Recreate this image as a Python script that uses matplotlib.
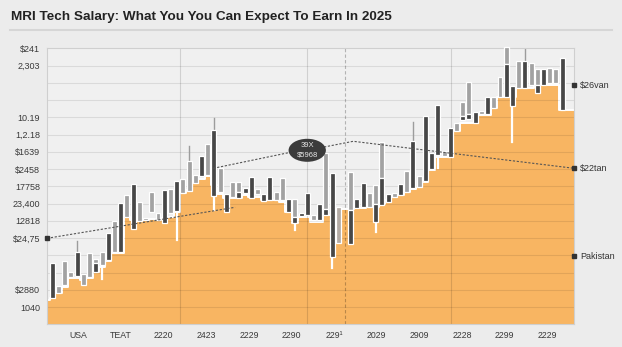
import numpy as np
import matplotlib.pyplot as plt
from matplotlib.patches import Ellipse, Rectangle
from matplotlib.lines import Line2D

plt.rcParams['font.family'] = ['Liberation Sans', 'DejaVu Sans']

# orange step level under each candle slot
base = [26, 31, 37, 46, 46, 44, 46, 52, 57, 63, 71, 71, 107, 104, 103, 104, 105, 104, 106, 107,
        112, 131, 134, 141, 145, 148, 139, 130, 126, 126, 126, 129, 127, 127, 124, 124, 124, 122, 112, 101,
        107, 107, 102, 102, 109, 109, 114, 115, 115, 116, 116, 117, 117, 120, 124, 127, 129, 132, 135, 137,
        142, 154, 167, 167, 167, 193, 201, 201, 201, 209, 209, 216, 227, 227, 227, 236, 236, 236, 239, 239,
        239, 239, 214]
base_start = 24

# candle bodies
hi = [61, 38, 63, 52, 72, 50, 71, 65, 72, 91, 103, 121, 129, 140, 122, 106, 132, 111, 134, 135,
      143, 145, 163, 149, 168, 180, 194, 156, 130, 142, 142, 136, 147, 135, 130, 147, 132, 146, 125, 125,
      111, 131, 109, 120, 171, 151, 117, None, 152, 125, 141, 131, 139, 182, 130, 131, 140, 153, 183, 148,
      208, 171, 219, 173, 196, 201, 222, 242, 212, 213, 227, 227, 247, 277, 238, 263, 263, 261, 255, 255,
      256, 255, 266]
lo = [26, 31, 39, 47, 48, 39, 47, 52, 59, 64, 72, 72, 107, 95, 103, 104, 112, 104, 101, 111,
      113, 131, 133, 141, 148, 149, 128, 132, 112, 127, 126, 131, 126, 130, 123, 124, 124, 124, 112, 101,
      108, 109, 104, 104, 109, 67, 81, None, 80, 116, 117, 117, 102, 119, 122, 127, 129, 132, 136, 137,
      143, 155, 169, 168, 167, 193, 204, 205, 201, 210, 210, 216, 227, 227, 218, 236, 236, 239, 231, 239,
      241, 241, 214]
kind = ("dllldllsldldldlllldl" + "dllldldldlsddlddllds" +
        "ddldsdp-sddlssdldldl" + "dddldlssdldllsdldlsd" + "lld")
split = {7: 61, 30: 132, 39: 107, 44: 115, 48: 114, 52: 120, 53: 146,
         66: 208, 67: 210, 73: 260, 78: 239}

wick_slot = [4, 22, 26, 58, 76, 8, 20, 26, 39, 45, 52, 62, 74]
wick_end = [83, 178, 206, 202, 275, 45, 84, 114, 94, 56, 92, 156, 182]

# dotted trend lines
trend1_x = [-0.85, 29.4]
trend1_y = [86, 117]
trend2_x = [25.9, 38.3, 41, 48.4, 83.9]
trend2_y = [156, 172, 174, 183, 156]

bubble_lines = ["39X", "$5968"]
right_labels = ["$26van", "$22tan", "Pakistan"]
right_vals = [239, 156, 68]

x_labels = ['USA', 'TEAT', '2220', '2423', '2229', '2290', '229\u00b9', '2029',
            '2909', '2228', '2299', '2229']
y_labels = ['', '1040', '$2880', '', '', '$24,75', '12818', '23,400', '17758',
            '$2458', '$1639', '1,2.18', '10.19', '', '', '2,303', '$241']

DARK = '#474747'
LIGHT = '#a2a2a2'
PINK = '#b3aba5'
ORANGE = '#f8b562'

fig = plt.figure(figsize=(6.22, 3.47), dpi=100)
fig.patch.set_facecolor('#ececec')
ax = fig.add_axes([47 / 622, 1 - 324.3 / 347, 527 / 622, 276 / 347])
ax.set_facecolor('#f0f0f0')

step = 17.25
ax.set_xlim(-0.85, 83.9)
ax.set_ylim(0, 16 * step)

# orange stepped area
n = len(base)
xs = np.concatenate([[-0.85], np.arange(n), [83.9]])
ys = np.concatenate([[base_start], base, [base[-1]]])
ax.fill_between(xs, 0, ys, step='mid', color=ORANGE, lw=0, zorder=1)
ax.step(xs, ys, where='mid', color='white', lw=1.4, zorder=1.2)

# grid
for k in range(1, 16):
    ax.axhline(k * step, color='black', alpha=0.09, lw=0.8, zorder=1.5)
for vx in [20.6, 41.0, 64.1]:
    ax.axvline(vx, color='black', alpha=0.13, lw=0.8, zorder=1.5)
ax.axvline(47.1, color='black', alpha=0.25, lw=0.8, ls=(0, (3, 2)), zorder=1.5)

# wicks
for s, e in zip(wick_slot, wick_end):
    if e > hi[s]:
        ax.plot([s, s], [hi[s], e], color='#9c9c9c', lw=1.0, zorder=2.5)
    else:
        ax.plot([s, s], [lo[s], e], color='white', lw=1.6, zorder=2.5)

# candles
w = 0.8
for i in range(n):
    if hi[i] is None:
        continue
    k = kind[i]
    if k == 's':
        m = split[i]
        segs = [(m, hi[i], LIGHT), (lo[i], m, DARK)]
    else:
        c = {'d': DARK, 'l': LIGHT, 'p': PINK}[k]
        segs = [(lo[i], hi[i], c)]
    for b, t, c in segs:
        ax.add_patch(Rectangle((i - w / 2, b), w, t - b, facecolor=c,
                               edgecolor='white', lw=0.9, zorder=3, clip_on=False))

# trend lines
ax.plot(trend1_x, trend1_y, color='#555555', lw=0.8, ls=(0, (2, 1.5)), zorder=4,
        clip_on=False)
ax.plot(trend2_x, trend2_y, color='#555555', lw=0.8, ls=(0, (2, 1.5)), zorder=4,
        clip_on=False)
ax.plot(trend1_x[0], trend1_y[0], marker='s', ms=2.5, color='#333333', clip_on=False, zorder=4)

# bubble
ax.add_patch(Ellipse((trend2_x[2], trend2_y[2]), 6.0, 23, facecolor='#3b3b3b',
                     edgecolor='none', zorder=5))
ax.text(trend2_x[2], trend2_y[2] + 4.5, bubble_lines[0], ha='center', va='center',
        fontsize=5.5, color='#e6e6e6', zorder=6)
ax.text(trend2_x[2], trend2_y[2] - 4.5, bubble_lines[1], ha='center', va='center',
        fontsize=5.5, color='#e6e6e6', zorder=6)

# right labels
for lab, v in zip(right_labels, right_vals):
    ax.plot(83.9, v, marker='s', ms=2.5, color='#333333', clip_on=False, zorder=4)
    ax.text(84.9, v, lab, ha='left', va='center', fontsize=6.5, color='#333333')

# axes
ax.set_yticks(np.arange(17) * step)
ax.set_yticklabels(y_labels, fontsize=6.5, color='#3a3a3a')
ax.set_xticks(4.24 + 6.85 * np.arange(len(x_labels)))
ax.set_xticklabels(x_labels, fontsize=6.3, color='#3a3a3a')
ax.tick_params(length=0, pad=5)
for sp in ax.spines.values():
    sp.set_color('#cfcfcf')
    sp.set_linewidth(0.8)

# title
fig.text(11 / 622, 1 - 17 / 347, "MRI Tech Salary: What You You Can Expect To Earn In 2025",
         fontsize=9.7, fontweight='bold', color='#222222', va='center', ha='left')
fig.add_artist(Line2D([10 / 622, 612 / 622], [1 - 30 / 347, 1 - 30 / 347],
                      color='#d6d6d6', lw=1.5))

fig.savefig('out.png', dpi=100, facecolor=fig.get_facecolor())
